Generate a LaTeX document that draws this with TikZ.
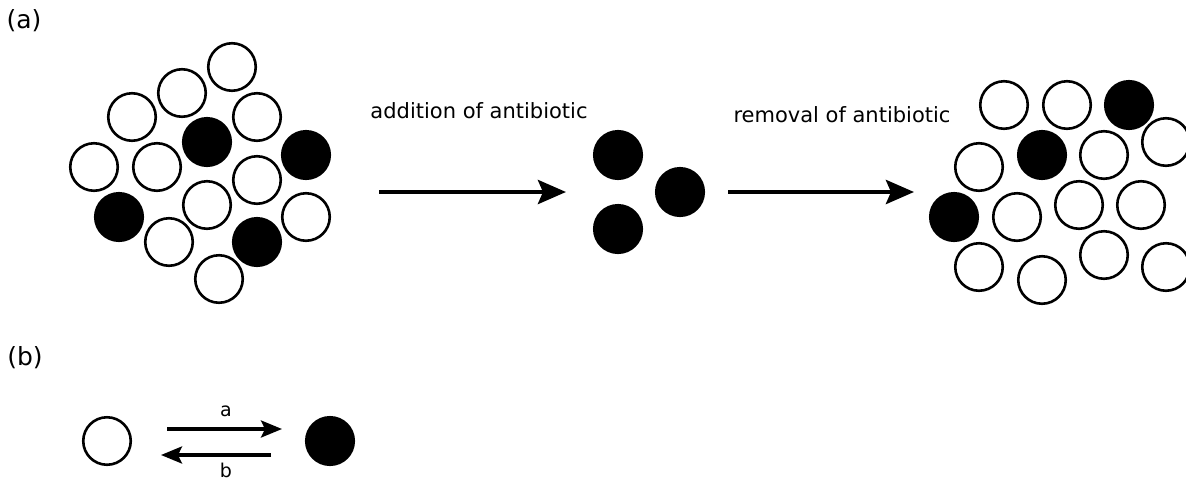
\documentclass[tikz,border=0pt]{standalone}
\usepackage{fontspec}
\setmainfont{DejaVu Sans}
\usetikzlibrary{arrows.meta}

\tikzset{
  cellw/.style={circle, draw, line width=2.6pt, minimum size=47.5pt, inner sep=0pt},
  cellb/.style={cellw, fill=black},
  bigarr/.style={line width=4.5pt, -{Stealth[length=28pt, width=24pt, inset=5pt]}},
  smallarr/.style={line width=3.4pt, -{Stealth[length=21pt, width=17pt, inset=4pt]}},
  txt/.style={inner sep=0pt, font=\fontsize{21}{25}\selectfont}
}

\begin{document}
\begin{tikzpicture}[x=1pt, y=-1pt]

	\useasboundingbox (0,0) rectangle (1186,480);

	\node[txt, font=\fontsize{25}{30}\selectfont] (lbla) at (24,21) {(a)};
	\node[txt, font=\fontsize{25}{30}\selectfont] (lblb) at (25,358) {(b)};

	% colony before
	\foreach \p [count=\i] in {(232,67),(182,93),(132,117),(257,117),(94,167),(157,167),(257,180),(207,205),(306,217),(169,242),(219,279)}
		\node[cellw] (lw\i) at \p {};
	\foreach \p [count=\i] in {(207,142),(306,155),(119,217),(257,242)}
		\node[cellb] (lb\i) at \p {};

	% persisters
	\node[cellb] (m1) at (618,155) {};
	\node[cellb] (m2) at (680,192) {};
	\node[cellb] (m3) at (618,229) {};

	% colony after
	\foreach \p [count=\i] in {(1004,105),(1067,105),(1166,142),(979,167),(1104,155),(1017,217),(1079,205),(1141,205),(979,267),(1042,280),(1104,255),(1166,267)}
		\node[cellw] (rw\i) at \p {};
	\foreach \p [count=\i] in {(1129,105),(1042,155),(954,217)}
		\node[cellb] (rb\i) at \p {};

	\coordinate (a1s) at (379,192);
	\coordinate (a1e) at (566,192);
	\coordinate (a2s) at (728,192);
	\coordinate (a2e) at (914,192);
	\draw[bigarr] (a1s) -- (a1e);
	\draw[bigarr] (a2s) -- (a2e);

	\node[txt, anchor=base] (addtxt) at (479,118) {addition of antibiotic};
	\node[txt, anchor=base] (remtxt) at (842,122) {removal of antibiotic};

	% switching
	\node[cellw] (nw) at (107,441) {};
	\node[cellb] (nb) at (330,441) {};
	\coordinate (ta) at (167,429);
	\coordinate (tb) at (282,429);
	\coordinate (ba) at (271,455);
	\coordinate (bb) at (161,455);
	\draw[smallarr] (ta) -- (tb);
	\draw[smallarr] (ba) -- (bb);
	\node[txt, font=\fontsize{19}{22}\selectfont] (ra) at (226,411) {a};
	\node[txt, font=\fontsize{19}{22}\selectfont] (rb) at (226,470) {b};
\end{tikzpicture}
\end{document}
